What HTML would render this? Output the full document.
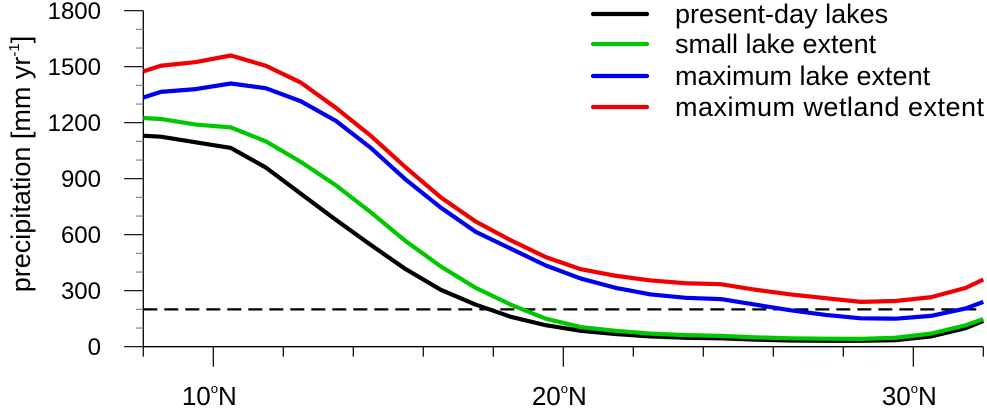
<!DOCTYPE html>
<html><head><meta charset="utf-8"><style>
body{margin:0;background:#fff;}
svg text{font-family:"Liberation Sans",sans-serif;fill:#000;}
</style></head><body>
<svg id="chart" width="987" height="408" viewBox="0 0 987 408" xmlns="http://www.w3.org/2000/svg">
<g id="axes"></g><g id="series"></g><g id="legend"></g>
<text transform="translate(30,164) rotate(-90)" text-anchor="middle" font-size="27">precipitation [mm yr<tspan font-size="15" dy="-11">-1</tspan><tspan dy="11">]</tspan></text>
</svg>
<script>
const lats=[8,8.5,9.5,10.5,11.5,12.5,13.5,14.5,15.5,16.5,17.5,18.5,19.5,20.5,21.5,22.5,23.5,24.5,25.5,26.5,27.5,28.5,29.5,30.5,31.5,32];
const presentDay=[1130,1125,1095,1065,960,820,680,545,415,305,225,160,115,85,68,55,48,45,38,33,32,32,35,55,100,138];
const smallLake=[1225,1220,1190,1175,1100,990,865,720,565,430,315,225,150,105,85,70,62,58,50,45,43,42,48,70,115,148];
const maxLake=[1335,1365,1380,1410,1385,1315,1210,1065,895,745,615,525,435,365,315,280,262,255,225,195,170,152,150,165,205,240];
const maxWetland=[1475,1505,1525,1560,1505,1415,1280,1130,960,800,670,570,480,415,380,355,340,335,305,280,260,240,245,265,315,360];
const yTicks=[0,300,600,900,1200,1500,1800];
const xTicks=[10,20,30];
const xTickLabels=["10","20","30"];
const threshold=200;
const seriesNames=["present-day lakes","small lake extent","maximum lake extent","maximum wetland extent"];

const NS="http://www.w3.org/2000/svg";
const X0=143.3,X1=983.3,LAT0=8,LAT1=32,Y0=346.7,Y1=10.7,VMAX=1800;
const xs=v=>X0+(v-LAT0)*(X1-X0)/(LAT1-LAT0);
const ys=v=>Y0-v*(Y0-Y1)/VMAX;
function mk(tag,attrs,parent){const e=document.createElementNS(NS,tag);for(const k in attrs)e.setAttribute(k,attrs[k]);parent.appendChild(e);return e;}
const axes=document.getElementById('axes'),ser=document.getElementById('series'),leg=document.getElementById('legend');

let l=mk('line',{x1:X0,y1:Y1,x2:X0,y2:Y0,stroke:'#000','stroke-width':1.3},axes);


l=mk('line',{x1:X0,y1:Y0,x2:X1,y2:Y0,stroke:'#000','stroke-width':1.3},axes);


for(let v=0;v<=VMAX;v+=100){
  const major=v%300===0;
  const t=mk('line',{x1:major?124:136,y1:ys(v),x2:X0,y2:ys(v),stroke:major?'#000':'#888','stroke-width':1.2},axes);
  
  
}
yTicks.forEach(v=>{
  const t=mk('text',{x:101,y:ys(v)+8.5,'text-anchor':'end','font-size':24},axes);
  t.textContent=v;
  
  
});
for(let v=LAT0;v<=LAT1;v+=2){
  const major=xTicks.includes(v);
  const t=mk('line',{x1:xs(v),y1:Y0,x2:xs(v),y2:major?366.7:356.7,stroke:'#000','stroke-width':1.2},axes);
  
  
}
xTicks.forEach((v,i)=>{
  const t=mk('text',{x:xs(v)-4,y:405,'text-anchor':'middle','font-size':26},axes);
  t.innerHTML=xTickLabels[i]+'<tspan font-size="13" dy="-12">o</tspan><tspan dy="12">N</tspan>';
  
  
});
l=mk('line',{x1:X0,y1:ys(threshold),x2:X1,y2:ys(threshold),stroke:'#000','stroke-width':2.2,'stroke-dasharray':'14,7'},ser);



const data=[presentDay,smallLake,maxLake,maxWetland];
const colors=['#000','#00c800','#0000f0','#f00000'];
const names=['present-day-line','small-lake-line','maximum-lake-line','maximum-wetland-line'];
data.forEach((arr,i)=>{
  const p=mk('polyline',{points:arr.map((v,j)=>xs(lats[j])+','+ys(v)).join(' '),fill:'none',stroke:colors[i],'stroke-width':4.2,'stroke-linejoin':'round'},ser);
  
  
});
const ly=[14,44,76,107];
seriesNames.forEach((n,i)=>{
  const g=mk('g',{},leg);
  
  
  mk('line',{x1:593,y1:ly[i],x2:647,y2:ly[i],stroke:colors[i],'stroke-width':4.2,'stroke-linecap':'round'},g);
  const t=mk('text',{x:675,y:ly[i]+9,'font-size':27},g);
  if(i===3)t.setAttribute('textLength',309);
  t.textContent=n;
});
</script>
</body></html>
